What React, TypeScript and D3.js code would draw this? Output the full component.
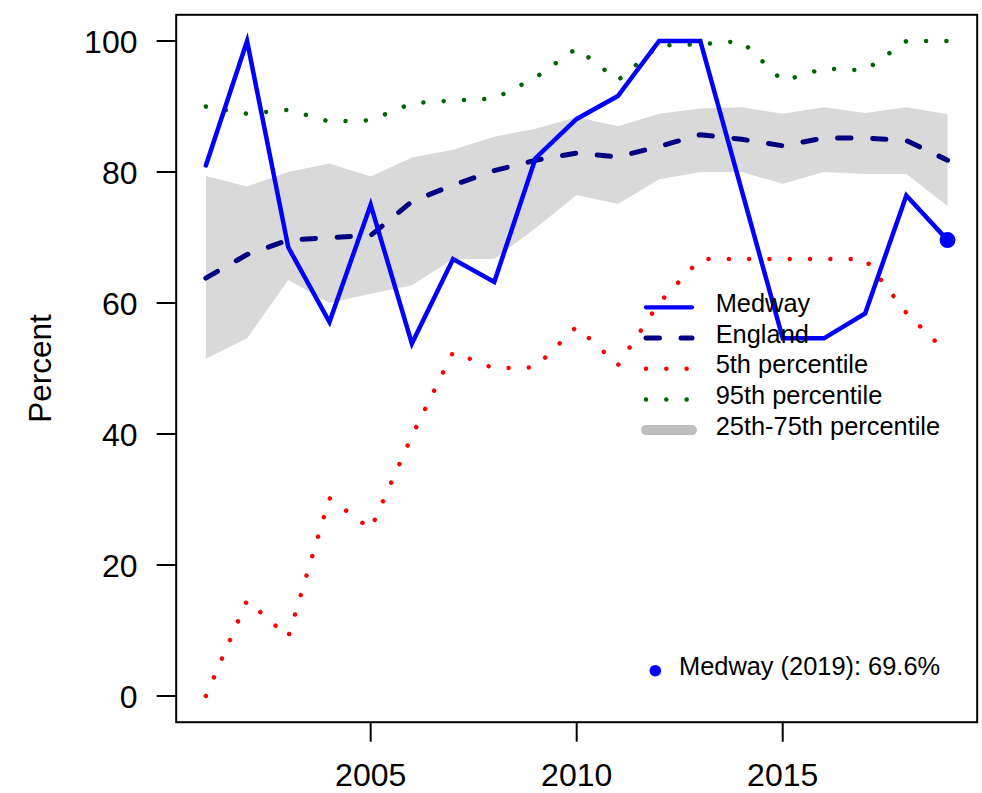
import React from "react";
import * as d3 from "d3";

const years = [2001, 2002, 2003, 2004, 2005, 2006, 2007, 2008, 2009, 2010, 2011, 2012, 2013, 2014, 2015, 2016, 2017, 2018, 2019];
const medway = [81.0, 100, 68.5, 57.1, 75.0, 53.8, 66.7, 63.2, 82.1, 88.1, 91.6, 100, 100, 77.3, 54.6, 54.6, 58.4, 76.4, 69.6];
const england = [63.8, 67.4, 69.6, 70.0, 70.3, 75.5, 78.0, 80.2, 81.8, 82.9, 82.3, 83.9, 85.7, 85.0, 84.0, 85.2, 85.2, 84.8, 81.8];
const p5 = [0, 14.6, 9.0, 30.2, 25.5, 39.7, 52.5, 50.0, 50.2, 56.4, 50.5, 60.0, 66.7, 66.7, 66.7, 66.7, 66.7, 58.5, 52.3];
const p95 = [90.0, 88.9, 89.5, 87.7, 87.9, 90.5, 90.9, 91.2, 94.4, 98.9, 94.0, 99.3, 99.5, 100, 93.9, 95.8, 95.5, 100, 100];
const p25 = [51.5, 54.6, 63.5, 60.0, 61.4, 62.7, 66.7, 66.7, 71.4, 76.5, 75.1, 78.9, 80.0, 80.0, 78.2, 80.0, 79.7, 79.7, 74.8];
const p75 = [79.4, 77.8, 80.0, 81.3, 79.3, 82.2, 83.4, 85.4, 86.6, 88.4, 87.0, 88.9, 89.7, 89.9, 88.9, 89.9, 89.0, 89.9, 88.8];

const yTicks = [0, 20, 40, 60, 80, 100];
const xTicks = [2005, 2010, 2015];
const legendLabels = ["Medway", "England", "5th percentile", "95th percentile", "25th-75th percentile"];
const latestLabel = "Medway (2019): 69.6%";
const yLabel = "Percent";

const FONT = "'Liberation Sans', Arial, sans-serif";

export default function App() {
  const W = 982, H = 793;
  const x = d3.scaleLinear().domain([2000.28, 2019.72]).range([176.2, 977.2]);
  const y = d3.scaleLinear().domain([-4, 104]).range([722.2, 14.8]);

  const line = (vals: number[]) =>
    d3.line<number>().x((_, i) => x(years[i])).y((v) => y(v))(vals) || "";
  const band =
    d3
      .area<number>()
      .x((i) => x(years[i]))
      .y0((i) => y(p25[i]))
      .y1((i) => y(p75[i]))(years.map((_, i) => i)) || "";

  const [x0, x1] = x.range();
  const [yb, yt] = y.range();
  const lastI = years.length - 1;

  const legX1 = 646, legX2 = 692, legY0 = 307.3, legStep = 30.7, legTextX = 715.7;
  const dashEng = "13.4,21.6";
  const dotPat = "0.01,20.3";

  const legendStyles = [
    { stroke: "#0000ff", width: 4.2, dash: undefined as string | undefined },
    { stroke: "#000080", width: 5, dash: dashEng },
    { stroke: "#ff0000", width: 4.5, dash: dotPat },
    { stroke: "#006400", width: 4.5, dash: dotPat },
    { stroke: "#bebebe", width: 10, dash: undefined },
  ];

  return (
    <svg width={W} height={H} style={{ position: "absolute", left: 0, top: 0, background: "#fff" }}>
      <rect x={0} y={0} width={W} height={H} fill="#fff" />
      <path d={band} fill="#d9d9d9" stroke="none" />
      <path d={line(p5)} fill="none" stroke="#ff0000" strokeWidth={4.5} strokeDasharray={dotPat} strokeLinecap="round" />
      <path d={line(p95)} fill="none" stroke="#006400" strokeWidth={4.5} strokeDasharray={dotPat} strokeLinecap="round" />
      <path d={line(england)} fill="none" stroke="#000080" strokeWidth={5} strokeDasharray={dashEng} strokeLinecap="round" strokeLinejoin="round" />
      <path d={line(medway)} fill="none" stroke="#0000ff" strokeWidth={4.5} strokeLinejoin="miter" strokeLinecap="round" />
      <circle cx={x(years[lastI])} cy={y(medway[lastI])} r={8} fill="#0000ff" />

      {/* box */}
      <rect x={x0} y={yt} width={x1 - x0} height={yb - yt} fill="none" stroke="#000" strokeWidth={2} />

      {/* y axis */}
      {yTicks.map((t) => (
        <g key={"y" + t}>
          <line x1={x0 - 19.5} x2={x0} y1={y(t)} y2={y(t)} stroke="#000" strokeWidth={2} />
          <text x={137.5} y={y(t)} dy="0.36em" textAnchor="end" fontFamily={FONT} fontSize={32} fill="#000">
            {t}
          </text>
        </g>
      ))}
      {/* x axis */}
      {xTicks.map((t) => (
        <g key={"x" + t}>
          <line x1={x(t)} x2={x(t)} y1={yb} y2={yb + 19.5} stroke="#000" strokeWidth={2} />
          <text x={x(t)} y={786} textAnchor="middle" fontFamily={FONT} fontSize={32} fill="#000">
            {t}
          </text>
        </g>
      ))}
      <text transform={`translate(51, ${(yb + yt) / 2}) rotate(-90)`} textAnchor="middle" fontFamily={FONT} fontSize={31.5} fill="#000">
        {yLabel}
      </text>

      {/* legend */}
      {legendLabels.map((lab, i) => {
        const ly = legY0 + i * legStep;
        const s = legendStyles[i];
        return (
          <g key={lab}>
            <line x1={legX1} x2={legX2} y1={ly} y2={ly} stroke={s.stroke} strokeWidth={s.width} strokeDasharray={s.dash} strokeLinecap="round" />
            <text x={legTextX} y={ly + 4.5} fontFamily={FONT} fontSize={25.4} fill="#000">
              {lab}
            </text>
          </g>
        );
      })}

      <circle cx={655.3} cy={670.7} r={5.8} fill="#0000ff" />
      <text x={679} y={675} fontFamily={FONT} fontSize={25.4} fill="#000">
        {latestLabel}
      </text>
    </svg>
  );
}
